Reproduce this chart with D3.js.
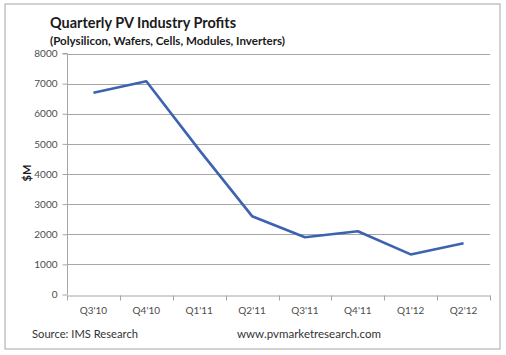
<!DOCTYPE html>
<html><head><meta charset="utf-8">
<script src="https://cdn.jsdelivr.net/npm/d3@7"></script>
<style>body{margin:0;background:#fff}svg{display:block}text{font-family:Lato,"Open Sans",sans-serif}</style>
</head><body>
<svg id="c" width="506" height="355"></svg>
<script>
const categories = ["Q3'10","Q4'10","Q1'11","Q2'11","Q3'11","Q4'11","Q1'12","Q2'12"];
const profits = [6700, 7080, 4800, 2600, 1900, 2100, 1330, 1700];
const yTicks = [0,1000,2000,3000,4000,5000,6000,7000,8000];
const title = "Quarterly PV Industry Profits";
const subtitle = "(Polysilicon, Wafers, Cells, Modules, Inverters)";
const yLabel = "$M";
const source = "Source: IMS Research";
const url = "www.pvmarketresearch.com";

const svg = d3.select("#c");
svg.append("rect").attr("x",5).attr("y",4).attr("width",495).attr("height",345)
  .attr("fill","#fff").attr("stroke","#a6a6a6").attr("stroke-width",1);

const L=67, R=490, T=53.5, B=294.5;
const x = d3.scaleBand().domain(categories).range([L,R]);
const y = d3.scaleLinear().domain([0,8000]).range([B,T]);

// gridlines
svg.append("g").selectAll("line").data(yTicks.filter(d=>d>0)).join("line")
  .attr("x1",L).attr("x2",R).attr("y1",d=>Math.round(y(d))+0.5).attr("y2",d=>Math.round(y(d))+0.5)
  .attr("stroke","#a6a6a6").attr("stroke-width",1);

// y axis
const ya = svg.append("g").attr("transform",`translate(${L+0.5},0)`)
  .call(d3.axisLeft(y).tickValues(yTicks).tickSize(5).tickPadding(5).tickFormat(d3.format("d")));
ya.select(".domain").attr("stroke","#a6a6a6").attr("d",`M-5,${T}H0V${B}`);
ya.selectAll(".tick line").attr("stroke","#a6a6a6");
ya.selectAll(".tick text").attr("fill","#4d4d4d").style("font-size","10px").style("font-family","Lato,sans-serif");

// x axis
const xa = svg.append("g").attr("transform",`translate(0,${Math.round(B)+0.5})`)
  .call(d3.axisBottom(x).tickSize(0).tickPadding(11));
xa.select(".domain").attr("stroke","#a6a6a6");
xa.selectAll(".tick text").attr("fill","#4d4d4d").style("font-size","10px").style("font-family","Lato,sans-serif");
xa.append("g").selectAll("line").data(categories.concat([null])).join("line")
  .attr("x1",(d,i)=>Math.round(L+i*x.step())+0.5).attr("x2",(d,i)=>Math.round(L+i*x.step())+0.5)
  .attr("y1",0).attr("y2",5).attr("stroke","#a6a6a6");

// line
const line = d3.line().x((d,i)=>x(categories[i])+x.bandwidth()/2).y(d=>y(d));
svg.append("path").datum(profits).attr("d",line).attr("fill","none")
  .attr("stroke","#3d63b0").attr("stroke-width",2.6).attr("stroke-linejoin","round");

// titles
svg.append("text").attr("x",50).attr("y",28).text(title)
  .attr("font-weight","bold").attr("font-size",15.5).attr("fill","#1a1a1a")
  .attr("textLength",186).attr("lengthAdjust","spacingAndGlyphs");
svg.append("text").attr("x",50).attr("y",45).text(subtitle)
  .attr("font-weight","bold").attr("font-size",11.5).attr("fill","#1a1a1a")
  .attr("textLength",235).attr("lengthAdjust","spacingAndGlyphs");
svg.append("text").attr("transform","translate(31,173) rotate(-90)").attr("text-anchor","middle")
  .text(yLabel).attr("font-weight","bold").attr("font-size",11).attr("fill","#1a1a1a");

svg.append("text").attr("x",32).attr("y",338).text(source).attr("font-size",11).attr("fill","#333")
  .attr("textLength",106).attr("lengthAdjust","spacingAndGlyphs");
svg.append("text").attr("x",237).attr("y",338).text(url).attr("font-size",11).attr("fill","#333")
  .attr("textLength",144).attr("lengthAdjust","spacingAndGlyphs");
</script>
</body></html>
